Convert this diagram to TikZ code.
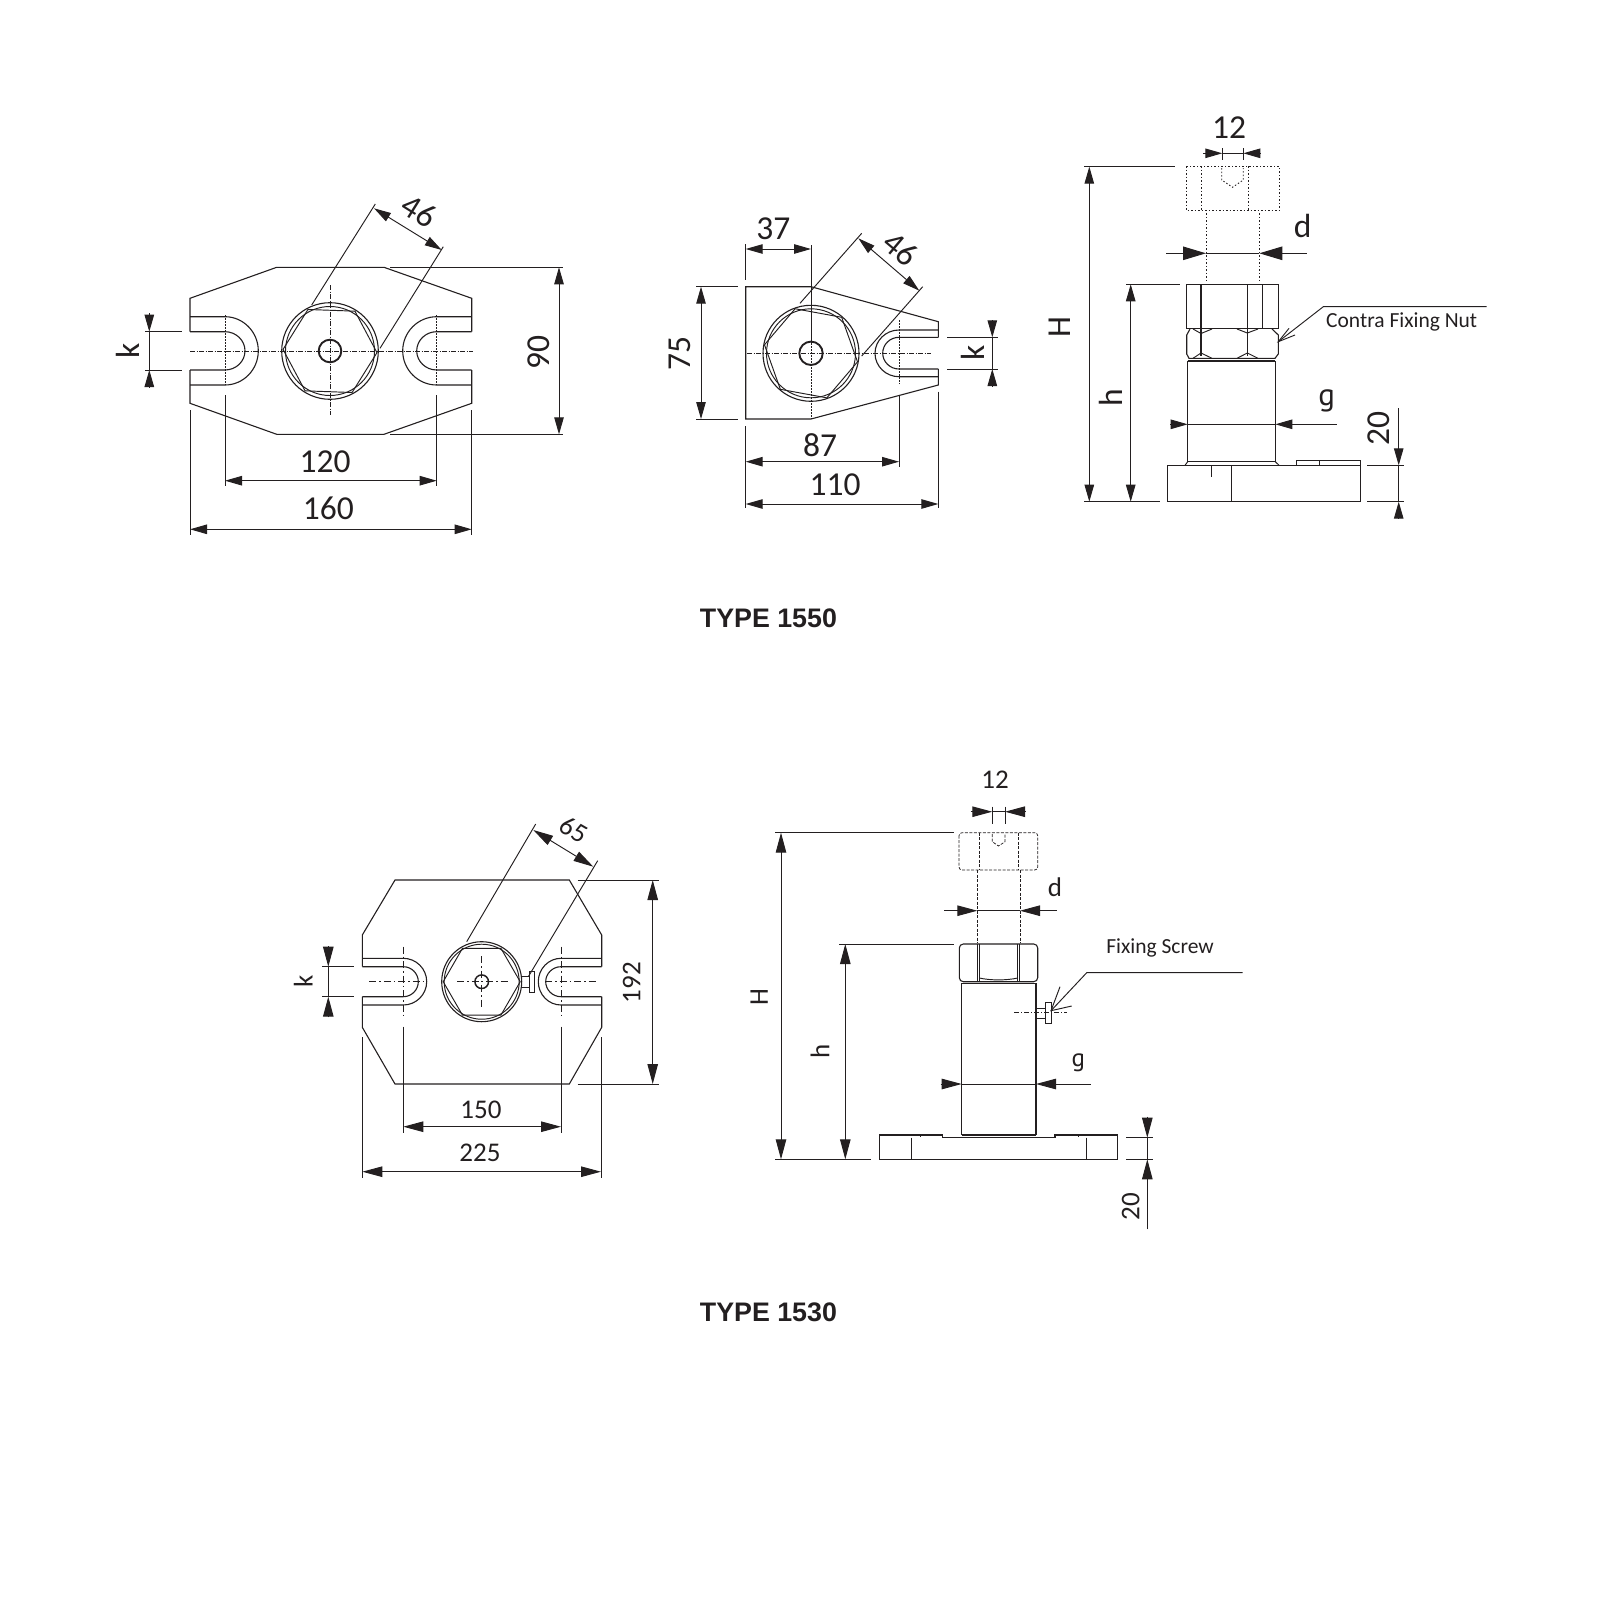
\documentclass[tikz,border=0pt]{standalone}
\usepackage{fontspec}
\setmainfont{Carlito}
\newfontfamily\titlefont{Liberation Sans}
\newfontfamily\letterfont{PT Sans}
\usepackage{tikz}
\usetikzlibrary{arrows.meta}
\definecolor{inkc}{HTML}{231F20}
\tikzset{%
	partline/.style={draw=inkc, line width=1.1pt},
	thinline/.style={draw=inkc, line width=0.95pt},
	dimline/.style={draw=inkc, line width=0.95pt, >={Triangle[length=17pt,width=9.5pt]}},
	lowdim/.style={dimline, >={Triangle[length=20pt,width=10.5pt]}},
	bigdim/.style={dimline, >={Triangle[length=23pt,width=13.5pt]}},
	centreline/.style={draw=inkc, line width=0.7pt, dash pattern=on 5pt off 1.5pt on 1pt off 1.5pt},
	lowcentre/.style={draw=inkc, line width=0.8pt, dash pattern=on 7pt off 3pt on 1.5pt off 3pt},
	holeline/.style={draw=inkc, line width=0.8pt, dash pattern=on 1.5pt off 1.5pt},
	ghostline/.style={draw=inkc, line width=0.85pt, dash pattern=on 1.5pt off 2pt},
	ghostdash/.style={draw=inkc, line width=0.75pt, dash pattern=on 3pt off 1.5pt},
	biglabel/.style={text=inkc, inner sep=0pt, font=\fontsize{33.5}{40}\selectfont},
	smalllabel/.style={text=inkc, inner sep=0pt, font=\fontsize{27}{32}\selectfont},
	bigletter/.style={text=inkc, inner sep=0pt, font=\letterfont\fontsize{31}{37}\selectfont},
	smallletter/.style={text=inkc, inner sep=0pt, font=\letterfont\fontsize{25}{30}\selectfont},
	notelabel/.style={text=inkc, inner sep=0pt, font=\fontsize{21.5}{26}\selectfont},
	titlelabel/.style={text=inkc, inner sep=0pt, font=\titlefont\bfseries\fontsize{26.8}{32}\selectfont},
}
% x at edge, x at centre, y top, y bottom, x at tip
\newcommand{\slotpath}[5]{%
	\draw[partline] (#1,#3) -- (#2,#3)
		.. controls ({#2+0.55*(#5-#2)},#3) and (#5,{#3+0.225*(#4-#3)}) .. (#5,{0.5*(#3+#4)})
		.. controls (#5,{#4-0.225*(#4-#3)}) and ({#2+0.55*(#5-#2)},#4) .. (#2,#4) -- (#1,#4);
}
% x, y, radius, rotation
\newcommand{\hexface}[4]{%
	\draw[thinline] (#1,#2) +(#4:#3) -- +({#4+60}:#3) -- +({#4+120}:#3) -- +({#4+180}:#3) -- +({#4+240}:#3) -- +({#4+300}:#3) -- cycle;
}
\begin{document}
\begin{tikzpicture}[x=1pt,y=-1pt]
	\useasboundingbox (0,0) rectangle (1600,1600);

	% type 1550, first plan
	\draw[partline] (190,331.7) -- (190,298.3) -- (276.7,267.3) -- (384,267.3) -- (471.7,298.3) -- (471.7,331.7);
	\draw[partline] (190,370) -- (190,403.3) -- (276.7,434.3) -- (384,434.3) -- (471.7,403.3) -- (471.7,370);
	\slotpath{190}{225}{331.7}{370}{245}
	\slotpath{190}{225}{316.7}{385}{258.3}
	\slotpath{471.7}{436.7}{331.7}{370}{416.7}
	\slotpath{471.7}{436.7}{316.7}{385}{402.7}
	\draw[centreline] (190,351) -- (473,351);
	\draw[holeline] (225,315) -- (225,385);
	\draw[holeline] (436.7,315) -- (436.7,385);
	\draw[centreline] (330,285) -- (330,415);
	\draw[partline] (330,351) circle[radius=48.3];
	\draw[thinline] (330,351) circle[radius=44.5];
	\hexface{330}{351}{47}{2}
	\draw[draw=inkc, line width=1.9pt] (330,351) circle[radius=11.3];

	\draw[thinline] (375.3,204) -- (311.7,305);
	\draw[thinline] (443.3,246.7) -- (380,348.3);
	\draw[dimline,<->] (374,208.3) -- (441.7,250);
	\node[biglabel, rotate=-32] (dimFlatA) at (419,211) {46};

	\draw[thinline] (145,331.7) -- (181.7,331.7);
	\draw[thinline] (145,370) -- (181.7,370);
	\draw[dimline] (149.3,331.7) -- (149.3,370);
	\draw[dimline,->] (149.3,313.3) -- (149.3,331.7);
	\draw[dimline,->] (149.3,387.3) -- (149.3,370);
	\node[biglabel, rotate=90] (dimSlotA) at (128,351) {k};

	\draw[thinline] (390,267.3) -- (563,267.3);
	\draw[thinline] (390,434.3) -- (563,434.3);
	\draw[dimline,<->] (559,267.3) -- (559,434.3);
	\node[biglabel, rotate=90] (dimHighA) at (539,353) {90};

	\draw[thinline] (225,395) -- (225,486);
	\draw[thinline] (436.7,395) -- (436.7,486);
	\draw[dimline,<->] (225,480.7) -- (436.7,480.7);
	\node[biglabel] (dimHolesA) at (325,461.7) {120};

	\draw[thinline] (190,410) -- (190,535);
	\draw[thinline] (471.7,410) -- (471.7,535);
	\draw[dimline,<->] (190,529.3) -- (471.7,529.3);
	\node[biglabel] (dimWideA) at (328.3,508.3) {160};

	% type 1550, second plan
	\draw[partline] (938.3,337.3) -- (938.3,321.7) -- (811,286.7) -- (745.7,286.7) -- (745.7,419) -- (811,419) -- (938.3,385) -- (938.3,369);
	\slotpath{938.3}{899}{337.3}{369}{882.7}
	\slotpath{938.3}{899}{330}{376.7}{875}
	\draw[centreline] (747,353.3) -- (930.7,353.3);
	\draw[holeline] (899,320) -- (899,383.3);
	\draw[thinline] (811,245) -- (811,343);
	\draw[holeline] (811,343) -- (811,419);
	\draw[partline] (811,353.3) circle[radius=48];
	\draw[thinline] (811,353.3) circle[radius=44.5];
	\hexface{811}{353.3}{47.3}{10.4}
	\draw[draw=inkc, line width=1.9pt] (811,353.3) circle[radius=11.7];

	\draw[thinline] (861.7,233.3) -- (800,303.3);
	\draw[thinline] (922.7,286.7) -- (861.7,356);
	\draw[dimline,<->] (858.3,238.3) -- (919.3,290.7);
	\node[biglabel, rotate=-40] (dimFlatB) at (901,249) {46};

	\draw[thinline] (745.7,244) -- (745.7,280);
	\draw[dimline,<->] (745.7,249) -- (811,249);
	\node[biglabel] (dimCentreB) at (773.3,228.3) {37};

	\draw[thinline] (696,286.7) -- (738.3,286.7);
	\draw[thinline] (696,419) -- (738.3,419);
	\draw[dimline,<->] (701,286.7) -- (701,419);
	\node[biglabel, rotate=90] (dimHighB) at (680,354) {75};

	\draw[thinline] (947.3,337.3) -- (998.3,337.3);
	\draw[thinline] (947.3,369) -- (998.3,369);
	\draw[dimline] (992.3,337.3) -- (992.3,369);
	\draw[dimline,->] (992.3,320) -- (992.3,337.3);
	\draw[dimline,->] (992.3,386.7) -- (992.3,369);
	\node[biglabel, rotate=90] (dimSlotB) at (973.3,352.7) {k};

	\draw[thinline] (899,395) -- (899,466.7);
	\draw[dimline,<->] (745.7,461.7) -- (899,461.7);
	\node[biglabel] (dimHoleB) at (820,445) {87};

	\draw[thinline] (745.7,426) -- (745.7,508.3);
	\draw[thinline] (938.3,391.7) -- (938.3,508.3);
	\draw[dimline,<->] (745.7,504) -- (938.3,504);
	\node[biglabel] (dimWideB) at (835,485) {110};

	% type 1550, side view
	\draw[ghostline] (1186.7,166) rectangle (1279,210.7);
	\draw[ghostline] (1201.7,166) -- (1201.7,210.7);
	\draw[ghostline] (1248.3,166) -- (1248.3,210.7);
	\draw[ghostline] (1221.7,168) -- (1221.7,180) -- (1232.5,187.3) -- (1243.3,180) -- (1243.3,168);
	\draw[ghostline] (1206,213.3) -- (1206,283.3);
	\draw[ghostline] (1259.3,213.3) -- (1259.3,283.3);

	\draw[partline] (1186.7,284.3) rectangle (1278.3,328.3);
	\draw[partline] (1201,284.3) -- (1201,328.3);
	\draw[partline] (1247.3,284.3) -- (1247.3,328.3);
	\draw[partline] (1262.7,284.3) -- (1262.7,328.3);
	\draw[partline] (1190,329) -- (1186.7,335) -- (1186.7,354) -- (1189,358.3) -- (1275,358.3) -- (1278.3,354) -- (1278.3,335) -- (1272,329);
	\draw[partline] (1201,329) -- (1201,356);
	\draw[partline] (1247.3,329) -- (1247.3,356);
	\draw[thinline] (1193,329) -- (1201,333.5) -- (1212,329);
	\draw[thinline] (1237,329) -- (1247.3,333) -- (1258,329);
	\draw[thinline] (1193,358.3) -- (1201,353) -- (1212,358.3);
	\draw[thinline] (1237,358.3) -- (1247.3,353) -- (1258,358.3);
	\draw[partline] (1187.7,361) -- (1275.3,361);
	\draw[partline] (1187.7,361) -- (1187.7,461.7) -- (1275.3,461.7) -- (1275.3,361);
	\draw[thinline] (1187.7,461.7) -- (1185,465.3);
	\draw[thinline] (1275.3,461.7) -- (1279,465.3);
	\draw[partline] (1167.3,465.3) rectangle (1360.7,501.7);
	\draw[partline] (1231.7,465.3) -- (1231.7,501.7);
	\draw[thinline] (1211.3,465.3) -- (1211.3,476.7);
	\draw[thinline] (1296.7,465.3) -- (1296.7,460.7) -- (1360.7,460.7) -- (1360.7,465.3);
	\draw[thinline] (1319.3,460.7) -- (1319.3,465.3);

	\draw[thinline] (1222.3,148.3) -- (1222.3,160);
	\draw[thinline] (1243.3,148.3) -- (1243.3,160);
	\draw[dimline] (1222.3,153.3) -- (1243.3,153.3);
	\draw[dimline,->] (1203.3,153.3) -- (1222.3,153.3);
	\draw[dimline,->] (1260,153.3) -- (1243.3,153.3);
	\node[biglabel] (dimNotchC) at (1229,127.3) {12};

	\draw[bigdim] (1206,253.3) -- (1259.3,253.3);
	\draw[bigdim,->] (1166,253.3) -- (1206,253.3);
	\draw[bigdim,->] (1306.7,253.3) -- (1259.3,253.3);
	\node[biglabel] (dimBoreC) at (1302.7,226) {d};

	\draw[thinline] (1084,166.7) -- (1175,166.7);
	\draw[thinline] (1084,501.7) -- (1160,501.7);
	\draw[dimline,<->] (1089.3,166.7) -- (1089.3,501.7);
	\node[biglabel, rotate=90] (dimFullC) at (1060,327.3) {H};

	\draw[thinline] (1126,284.3) -- (1180,284.3);
	\draw[dimline,<->] (1130.7,284.3) -- (1130.7,501.7);
	\node[biglabel, rotate=90] (dimLowC) at (1110.7,397.7) {h};

	\draw[dimline] (1187.7,424.3) -- (1275.3,424.3);
	\draw[dimline,->] (1170,424.3) -- (1187.7,424.3);
	\draw[dimline,->] (1336.7,424.3) -- (1275.3,424.3);
	\node[bigletter] (dimBodyC) at (1326.7,401) {g};

	\draw[thinline] (1367.3,465.3) -- (1404,465.3);
	\draw[thinline] (1367.3,501.7) -- (1404,501.7);
	\draw[dimline] (1398.7,465.3) -- (1398.7,501.7);
	\draw[dimline,->] (1398.7,408.3) -- (1398.7,465.3);
	\draw[dimline,->] (1398.7,518.3) -- (1398.7,501.7);
	\node[biglabel, rotate=90] (dimBaseC) at (1378.3,428.3) {20};

	\draw[thinline] (1486.7,306.7) -- (1323.3,306.7) -- (1278.3,341.7);
	\draw[thinline] (1295,335) -- (1278.3,341.7) -- (1289,328.3);
	\node[notelabel] (noteNut) at (1401.7,321.7) {Contra Fixing Nut};

	\node[titlelabel] (titleUpper) at (768.4,618.4) {TYPE 1550};

	% type 1530, plan
	\draw[partline] (362.3,966.7) -- (362.3,935) -- (395,880) -- (569.3,880) -- (601.7,935) -- (601.7,966.7);
	\draw[partline] (362.3,996.7) -- (362.3,1027.3) -- (395,1084) -- (569.3,1084) -- (601.7,1027.3) -- (601.7,996.7);
	\slotpath{362.3}{403.3}{966.7}{996.7}{418.3}
	\slotpath{362.3}{403.3}{958.3}{1005}{426.7}
	\slotpath{601.7}{561}{966.7}{996.7}{545.7}
	\slotpath{601.7}{561}{958.3}{1005}{538.3}
	\draw[lowcentre] (369.3,981.7) -- (427,981.7);
	\draw[lowcentre] (457,981.7) -- (508,981.7);
	\draw[lowcentre] (545,981.7) -- (596,981.7);
	\draw[lowcentre] (403.3,946.7) -- (403.3,1015);
	\draw[lowcentre] (561,946.7) -- (561,1015);
	\draw[lowcentre] (481.7,956) -- (481.7,1006.7);
	\draw[partline] (481.7,981.7) circle[radius=40];
	\draw[thinline] (481.7,981.7) circle[radius=37.5];
	\hexface{481.7}{981.7}{38.5}{0}
	\draw[draw=inkc, line width=1.5pt] (481.7,981.7) circle[radius=6.8];
	\draw[thinline] (520.7,976.7) -- (529.3,976.7);
	\draw[thinline] (520.7,987.3) -- (529.3,987.3);
	\draw[thinline] (529.3,971) rectangle (534.3,992.7);

	\draw[thinline] (535.7,824) -- (466.7,941.7);
	\draw[thinline] (597.7,860.7) -- (528.3,976.7);
	\draw[lowdim,<->] (533.3,830) -- (593.3,866.7);
	\node[smalllabel, rotate=-30] (dimFlatD) at (574,830) {65};

	\draw[thinline] (322.3,966.7) -- (354,966.7);
	\draw[thinline] (322.3,996.7) -- (354,996.7);
	\draw[lowdim] (328.3,966.7) -- (328.3,996.7);
	\draw[lowdim,->] (328.3,946) -- (328.3,966.7);
	\draw[lowdim,->] (328.3,1017.3) -- (328.3,996.7);
	\node[smalllabel, rotate=90] (dimSlotD) at (303.3,981.7) {k};

	\draw[thinline] (577.7,880) -- (659.3,880);
	\draw[thinline] (577.7,1084) -- (659.3,1084);
	\draw[lowdim,<->] (652.7,880) -- (652.7,1084);
	\node[smalllabel, rotate=90] (dimHighD) at (631.7,982.7) {192};

	\draw[thinline] (403.3,1026.7) -- (403.3,1133.3);
	\draw[thinline] (561,1026.7) -- (561,1133.3);
	\draw[lowdim,<->] (403.3,1126.7) -- (561,1126.7);
	\node[smalllabel] (dimHolesD) at (481,1110) {150};

	\draw[thinline] (362.3,1037.3) -- (362.3,1178.3);
	\draw[thinline] (601,1037.3) -- (601,1178.3);
	\draw[lowdim,<->] (362.3,1171.7) -- (601,1171.7);
	\node[smalllabel] (dimWideD) at (480,1153.3) {225};

	% type 1530, side view
	\draw[ghostdash, rounded corners=3pt] (959,832.7) rectangle (1037.7,870);
	\draw[ghostdash] (979.3,832.7) -- (979.3,870);
	\draw[ghostdash] (1018.3,832.7) -- (1018.3,870);
	\draw[ghostdash] (992.3,834) -- (992.3,841.7) -- (998.5,846) -- (1005,841.7) -- (1005,834);
	\draw[ghostdash] (977.3,870) -- (977.3,943.3);
	\draw[ghostdash] (1020,870) -- (1020,943.3);

	\draw[partline, rounded corners=4pt] (959.3,944) rectangle (1037.7,981.7);
	\draw[partline] (977.3,944) -- (977.3,981.7);
	\draw[partline] (979.3,944) -- (979.3,981.7);
	\draw[partline] (1017.7,944) -- (1017.7,981.7);
	\draw[partline] (1019.3,944) -- (1019.3,981.7);
	\draw[thinline] (979.3,978) .. controls (990,980.5) and (1007,980.5) .. (1017.7,978);
	\draw[partline] (961.7,983.3) -- (1036,983.3);
	\draw[partline] (961.7,983.3) -- (961.7,1135);
	\draw[partline] (1036,983.3) -- (1036,1135);
	\draw[partline] (961.7,1135) -- (1036,1135);
	\draw[partline] (879.3,1135) -- (942.7,1135) -- (942.7,1137.7) -- (1055,1137.7) -- (1055,1135) -- (1117.7,1135) -- (1117.7,1159.3) -- (879.3,1159.3) -- cycle;
	\draw[thinline] (911.7,1137.7) -- (911.7,1159.3);
	\draw[thinline] (1086,1137.7) -- (1086,1159.3);
	\draw[thinline] (920,1135) -- (920,1137);
	\draw[thinline] (1078.3,1135) -- (1078.3,1137);

	\draw[thinline] (1036,1008.3) -- (1045.7,1008.3);
	\draw[thinline] (1036,1018.3) -- (1045.7,1018.3);
	\draw[thinline] (1045.7,1002.3) rectangle (1051,1023.3);
	\draw[lowcentre, dash pattern=on 5pt off 2pt on 1pt off 2pt] (1014,1012.3) -- (1066.7,1012.3);

	\draw[thinline] (992.3,806.7) -- (992.3,824.3);
	\draw[thinline] (1005,806.7) -- (1005,824.3);
	\draw[lowdim] (992.3,811.7) -- (1005,811.7);
	\draw[lowdim,->] (970.7,811.7) -- (992.3,811.7);
	\draw[lowdim,->] (1025.7,811.7) -- (1005,811.7);
	\node[smalllabel] (dimNotchE) at (995,780) {12};

	\draw[lowdim] (977.3,910.7) -- (1020,910.7);
	\draw[lowdim,->] (944,910.7) -- (977.3,910.7);
	\draw[lowdim,->] (1056.7,910.7) -- (1020,910.7);
	\node[smalllabel] (dimBoreE) at (1055,887.3) {d};

	\draw[thinline] (775,832.7) -- (954.3,832.7);
	\draw[thinline] (775,1159.3) -- (870.7,1159.3);
	\draw[lowdim,<->] (781,832.7) -- (781,1159.3);
	\node[smalllabel, rotate=90] (dimFullE) at (759.3,996.7) {H};

	\draw[thinline] (839.3,944) -- (954.3,944);
	\draw[lowdim,<->] (845.3,944) -- (845.3,1159.3);
	\node[smalllabel, rotate=90] (dimLowE) at (820,1051.7) {h};

	\draw[lowdim] (961.7,1084) -- (1036,1084);
	\draw[lowdim,->] (940.7,1084) -- (961.7,1084);
	\draw[lowdim,->] (1090.7,1084) -- (1036,1084);
	\node[smallletter] (dimBodyE) at (1078.3,1063) {g};

	\draw[thinline] (1126,1137.7) -- (1153.3,1137.7);
	\draw[thinline] (1126,1159.3) -- (1153.3,1159.3);
	\draw[lowdim] (1147.3,1137.7) -- (1147.3,1159.3);
	\draw[lowdim,->] (1147.3,1116.7) -- (1147.3,1137.7);
	\draw[lowdim,->] (1147.3,1229.3) -- (1147.3,1159.3);
	\node[smalllabel, rotate=90] (dimBaseE) at (1130.7,1206.7) {20};

	\draw[thinline] (1242.7,972.7) -- (1086.7,972.7) -- (1051,1010.7);
	\draw[thinline] (1060,986.7) -- (1051,1010.7) -- (1071.7,1006);
	\node[notelabel] (noteScrew) at (1160,948.3) {Fixing Screw};

	\node[titlelabel] (titleLower) at (768.4,1312) {TYPE 1530};
\end{tikzpicture}
\end{document}
